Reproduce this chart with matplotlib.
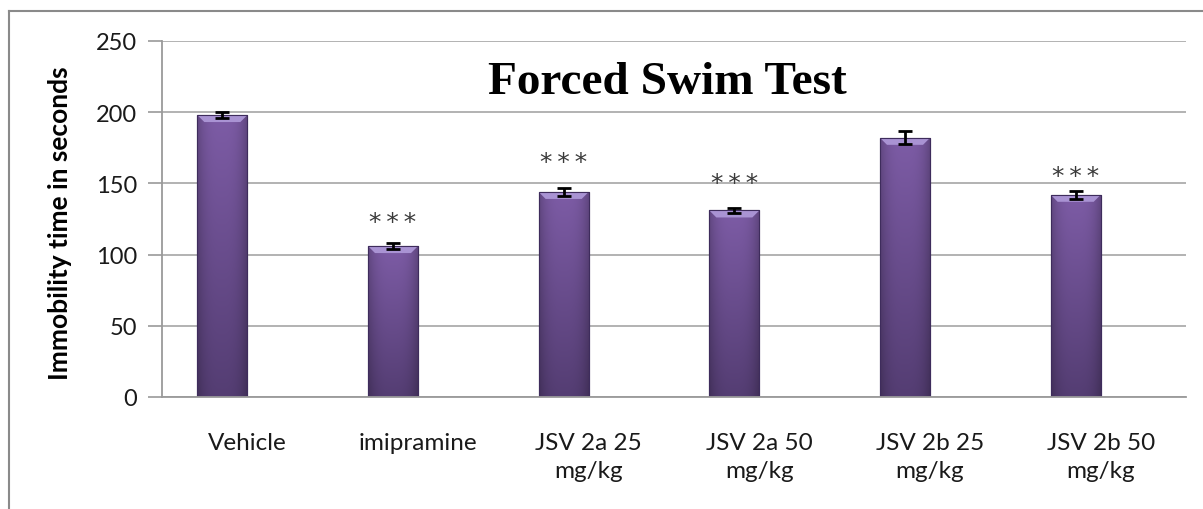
import numpy as np
import matplotlib
matplotlib.use("Agg")
import matplotlib.pyplot as plt
from matplotlib.patches import Polygon
from matplotlib.lines import Line2D

categories = ["Vehicle", "imipramine", "JSV 2a 25\nmg/kg", "JSV 2a 50\nmg/kg",
              "JSV 2b 25\nmg/kg", "JSV 2b 50\nmg/kg"]
values = [198, 106, 144, 131, 182, 142]
errors = [2, 2, 3, 2, 4.5, 3]
star_labels = ["", "***", "***", "***", "", "***"]
star_y = [0, 123, 165, 150, 0, 155]
yticks = [0, 50, 100, 150, 200, 250]
title = "Forced Swim Test"
ylabel = "Immobility time in seconds"

W, H = 1203, 510
fig = plt.figure(figsize=(W / 100, H / 100), dpi=100)
ax = fig.add_axes([162 / W, 1 - 398 / H, (1186 - 162) / W, (398 - 42) / H])

# chart outer border (top and left visible)
fig.add_artist(Line2D([9 / W, 1.01], [1 - 12 / H, 1 - 12 / H], transform=fig.transFigure,
                      color="#8a8a8a", lw=1.5))
fig.add_artist(Line2D([9 / W, 9 / W], [1 - 12 / H, -0.01], transform=fig.transFigure,
                      color="#8a8a8a", lw=1.5))

ax.set_xlim(-0.5, 5.5)
ax.set_ylim(0, 250)
ax.set_yticks(yticks)
ax.yaxis.grid(True, color="#a6a6a6", lw=1.2)
ax.set_axisbelow(True)
for s in ["top", "right"]:
    ax.spines[s].set_visible(False)
for s in ["left", "bottom"]:
    ax.spines[s].set_color("#9a9a9a")
    ax.spines[s].set_linewidth(1.3)

tickfont = "Lato"
ax.set_xticks(range(len(categories)))
ax.set_xticklabels(categories, fontsize=17.5, family=tickfont, color="#1a1a1a",
                   linespacing=1.45, va="top")
ax.tick_params(axis="x", length=0, pad=25)
ax.tick_params(axis="y", length=10, width=1.2, color="#9a9a9a", pad=8,
               labelsize=17, labelcolor="#1a1a1a")
for lbl in ax.get_yticklabels():
    lbl.set_family(tickfont)

ax.set_ylabel(ylabel, fontsize=19, fontweight="bold", family=tickfont, color="#000000")
ax.yaxis.set_label_coords((72 - 162) / 1024, 0.49)

bw = 50 / (1024 / 6)
xs = np.arange(len(categories)) - bw / 2
bars = ax.bar(xs, values, width=bw, color="#6a4c93", edgecolor="#3e2c5c",
              linewidth=0.8, zorder=2)

# gradient fill for each bar
dark = np.array([0.33, 0.24, 0.45])
light = np.array([0.49, 0.36, 0.65])
ny, nx = 120, 60
t = np.linspace(0, 1, ny)[:, None, None]
s = np.linspace(0, 1, nx)[None, :, None]
col = dark + (light - dark) * t
shade = 1 - 0.22 * np.abs(2 * s - 1) ** 3
img = np.clip(col * shade, 0, 1)
for b in bars:
    x0, w, h = b.get_x(), b.get_width(), b.get_height()
    im = ax.imshow(img, extent=[x0, x0 + w, 0, h], origin="lower", aspect="auto",
                   zorder=2.1, interpolation="bilinear")
    im.set_clip_path(b)
    dx = w * 0.14
    dy = 250 * 7 / 356
    bevel = Polygon([[x0, h], [x0 + w, h], [x0 + w - dx, h - dy], [x0 + dx, h - dy]],
                    closed=True, facecolor="#a993d3", edgecolor="none", zorder=2.2)
    ax.add_patch(bevel)
    bevel.set_clip_path(b)
    ax.add_patch(Polygon([[x0, h], [x0 + w, h], [x0 + w, 0], [x0, 0]], closed=True,
                         facecolor="none", edgecolor="#3e2c5c", lw=0.8, zorder=2.3))
ax.set_xlim(-0.5, 5.5)
ax.set_ylim(0, 250)

ax.errorbar(xs, values, yerr=errors, fmt="none", ecolor="black", elinewidth=2,
            capsize=5, capthick=2, zorder=3)

for x, lab, y in zip(xs, star_labels, star_y):
    if lab:
        ax.text(x, y, "\u2009".join(lab), ha="center", va="center", fontsize=18,
                family="DejaVu Sans", color="#3a3a3a")

ax.text((667 - 162) / 1024, (398 - 94) / 356, title, transform=ax.transAxes,
        ha="center", va="baseline", fontsize=34, fontweight="bold",
        family="Liberation Serif", color="black")

fig.savefig("out.png", dpi=100)
